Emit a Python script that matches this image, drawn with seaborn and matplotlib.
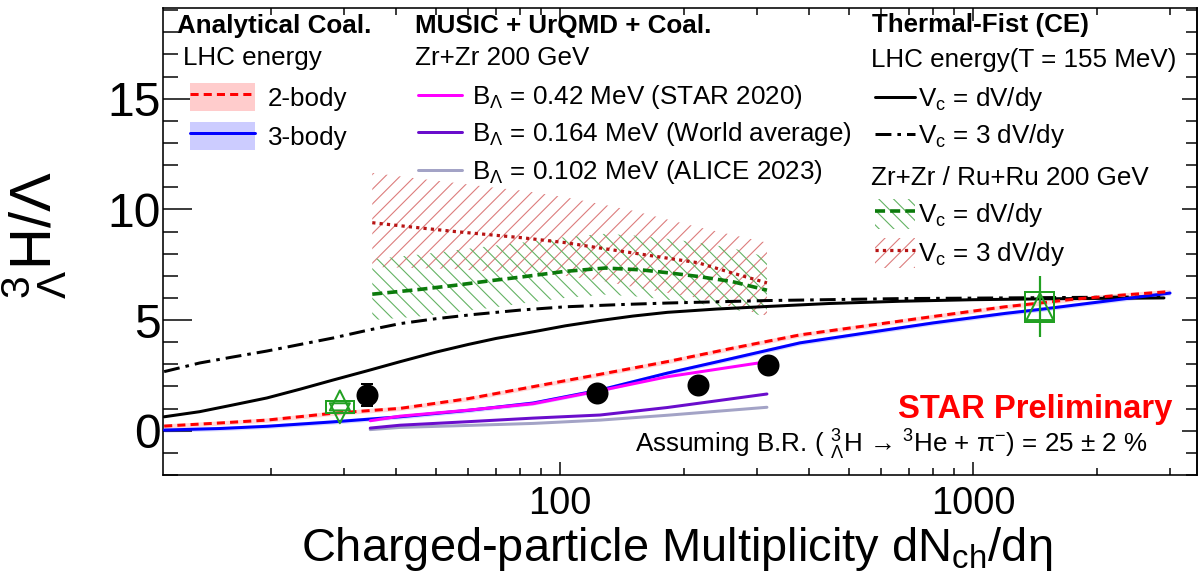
import matplotlib
matplotlib.use("Agg")
import matplotlib.pyplot as plt
import seaborn as sns
from matplotlib.lines import Line2D
from matplotlib.patches import Patch
from matplotlib.legend import Legend
from matplotlib.ticker import MultipleLocator, LogLocator, NullFormatter, FuncFormatter

# ---------------- data ----------------
# Thermal-FIST (CE), LHC energy, Vc = dV/dy
tf1_x = [11, 13.4, 16, 19.5, 23.5, 28.2, 34, 41, 50, 60, 70, 89, 103, 125, 150, 182, 240, 314, 450, 666, 1000, 1500, 2000, 2900]
tf1_y = [0.63, 0.86, 1.15, 1.48, 1.88, 2.29, 2.7, 3.12, 3.55, 3.9, 4.17, 4.52, 4.74, 4.98, 5.18, 5.35, 5.5, 5.61, 5.75, 5.85, 5.92, 5.96, 5.98, 6.0]
# Thermal-FIST (CE), LHC energy, Vc = 3 dV/dy
tf3_x = [11, 13.4, 16, 19.5, 23.5, 28.2, 34, 41, 50, 61.6, 80, 103, 140, 182, 314, 666, 1163, 2000, 2900]
tf3_y = [2.67, 3.06, 3.32, 3.6, 3.9, 4.19, 4.53, 4.84, 5.06, 5.25, 5.45, 5.6, 5.7, 5.77, 5.88, 5.97, 6.0, 6.03, 6.05]

# Analytical coalescence, LHC energy
coal_x = [11, 15, 19.5, 28.2, 41, 60, 86, 125, 181.6, 260, 381, 560, 800, 1195, 1452, 1766, 2300, 3000]
coal2_y = [0.21, 0.35, 0.48, 0.79, 1.01, 1.45, 1.99, 2.55, 3.12, 3.72, 4.33, 4.76, 5.16, 5.6, 5.77, 5.95, 6.13, 6.29]
coal3_y = [0.03, 0.1, 0.2, 0.4, 0.63, 0.92, 1.25, 1.84, 2.6, 3.26, 3.97, 4.44, 4.87, 5.3, 5.48, 5.68, 5.95, 6.22]
coal_band = 0.1

# MUSIC + UrQMD + Coal., Zr+Zr 200 GeV
music_x = [34.7, 41, 60, 86, 125, 182, 317]
music_042 = [0.45, 0.66, 0.93, 1.22, 1.81, 2.44, 3.12]
music_0164 = [0.12, 0.25, 0.41, 0.57, 0.71, 1.05, 1.66]
music_0102 = [0.05, 0.15, 0.24, 0.33, 0.48, 0.7, 1.06]

# Thermal-FIST, Zr+Zr / Ru+Ru 200 GeV
zr1_x = [35.1, 45, 55.7, 68, 80.9, 102.8, 128.6, 157, 186, 216, 261, 317]
zr1_y = [6.17, 6.37, 6.57, 6.78, 6.95, 7.2, 7.35, 7.27, 7.12, 6.97, 6.74, 6.35]
zr1_hi = [7.75, 7.95, 8.15, 8.35, 8.5, 8.75, 8.9, 8.8, 8.65, 8.5, 8.25, 7.85]
zr1_lo = [5.0, 5.15, 5.35, 5.55, 5.75, 6.0, 6.15, 6.05, 5.9, 5.75, 5.5, 5.15]
zr3_x = [35.1, 45, 55.7, 68, 80.9, 102.8, 128.6, 149.4, 186, 215.8, 261, 317]
zr3_y = [9.4, 9.18, 9.0, 8.85, 8.72, 8.5, 8.22, 8.04, 7.77, 7.59, 7.13, 6.68]
zr3_hi = [11.65, 11.4, 11.2, 11.0, 10.85, 10.55, 10.2, 9.95, 9.5, 9.2, 8.85, 8.5]
zr3_lo = [7.4, 7.35, 7.3, 7.2, 7.15, 7.0, 6.75, 6.5, 6.2, 6.0, 5.6, 5.2]

# STAR data
star_x = [34.1, 122.9, 216, 318]
star_y = [1.62, 1.69, 2.07, 2.97]
star_err = [0.5, 0.25, 0.25, 0.3]

# ALICE data (open green markers) with systematic boxes
alice_up_x = [29.3, 1452]
alice_up_y = [1.37, 5.61]
alice_down_x = [29.3]
alice_down_y = [0.79]
alice_err_x = [1452]
alice_err_y = [5.61]
alice_err = [1.36]
alice_box_xlo = [27.1, 1336]
alice_box_xhi = [31.7, 1570]
alice_box_ylo = [0.8, 4.9]
alice_box_yhi = [1.34, 6.29]

x_ticklabels = {100: "100", 1000: "1000"}

# ---------------- geometry helpers ----------------
DPI = 133
W, H = 1198, 588
AX_L, AX_R, AX_T, AX_B = 163, 1197, 8, 475


def pt(px):
    return px * 72.0 / DPI


def fx(px):
    return (px - AX_L) / (AX_R - AX_L)


def fy(py):
    return (AX_B - py) / (AX_B - AX_T)


sns.set_theme(style="ticks")
plt.rcParams.update({
    "mathtext.fontset": "custom",
    "mathtext.rm": "Liberation Sans",
    "mathtext.it": "Liberation Sans:italic",
    "mathtext.bf": "Liberation Sans:bold",
    "mathtext.sf": "Liberation Sans",
    "hatch.linewidth": pt(1.1),
    "text.color": "black",
    "axes.labelcolor": "black",
    "axes.edgecolor": "black",
    "xtick.color": "black",
    "ytick.color": "black",
})
plt.rcParams["font.family"] = ["Liberation Sans", "DejaVu Sans"]

RED = "#ff0000"
BLUE = "#0000ff"
MAG = "#ff00ff"
PURP = "#6a0dcc"
LAV = "#a3a3c6"
GLINE = "#0b7a0b"
GHATCH = "#63b263"
DRED = "#b81414"
RHATCH = "#dc7c7c"
MGREEN = "#22a022"
RED_HATCH_PAT = "///"
GREEN_HATCH_PAT = "\\\\\\"

LW = pt(3)
DASH_2B = (0, (2.7, 1.7))
DASHDOT = (0, (5.3, 2.0, 1.2, 2.0))
GDASH = (0, (2.8, 1.4))
RDOT = (0, (1.0, 1.3))

fig = plt.figure(figsize=(W / DPI, H / DPI), dpi=DPI)
ax = fig.add_axes([AX_L / W, 1 - AX_B / H, (AX_R - AX_L) / W, (AX_B - AX_T) / H])
ax.set_xscale("log")

# hatched bands (Zr+Zr / Ru+Ru thermal model)
ax.fill_between(zr3_x, zr3_lo, zr3_hi, facecolor="none", edgecolor=RHATCH,
                hatch=RED_HATCH_PAT, linewidth=0, zorder=1)
ax.fill_between(zr1_x, zr1_lo, zr1_hi, facecolor="none", edgecolor=GHATCH,
                hatch=GREEN_HATCH_PAT, linewidth=0, zorder=1)

# thin bands of the analytical coalescence
ax.fill_between(coal_x, [v - coal_band for v in coal2_y], [v + coal_band for v in coal2_y],
                color=RED, alpha=0.15, linewidth=0, zorder=1)
ax.fill_between(coal_x, [v - coal_band for v in coal3_y], [v + coal_band for v in coal3_y],
                color=BLUE, alpha=0.15, linewidth=0, zorder=1)

# curves
sns.lineplot(x=zr3_x, y=zr3_y, ax=ax, color=DRED, linewidth=pt(3.2), linestyle=RDOT, zorder=3)
sns.lineplot(x=zr1_x, y=zr1_y, ax=ax, color=GLINE, linewidth=pt(3.6), linestyle=GDASH, zorder=3)
sns.lineplot(x=tf3_x, y=tf3_y, ax=ax, color="black", linewidth=LW, linestyle=DASHDOT, zorder=3)
sns.lineplot(x=tf1_x, y=tf1_y, ax=ax, color="black", linewidth=LW, zorder=3)
sns.lineplot(x=coal_x, y=coal3_y, ax=ax, color=BLUE, linewidth=LW, zorder=3)
sns.lineplot(x=coal_x, y=coal2_y, ax=ax, color=RED, linewidth=LW, linestyle=DASH_2B, zorder=3)
sns.lineplot(x=music_x, y=music_0102, ax=ax, color=LAV, linewidth=LW, zorder=3)
sns.lineplot(x=music_x, y=music_0164, ax=ax, color=PURP, linewidth=LW, zorder=3)
sns.lineplot(x=music_x, y=music_042, ax=ax, color=MAG, linewidth=LW, zorder=3)

# ALICE points
ax.bar(alice_box_xlo, [h - l for h, l in zip(alice_box_yhi, alice_box_ylo)],
       width=[h - l for h, l in zip(alice_box_xhi, alice_box_xlo)], bottom=alice_box_ylo,
       align="edge", fill=False, edgecolor=MGREEN, linewidth=pt(2), zorder=4)
ax.errorbar(alice_err_x, alice_err_y, yerr=alice_err, fmt="none", ecolor=MGREEN,
            elinewidth=pt(2.2), zorder=4)
sns.scatterplot(x=alice_up_x, y=alice_up_y, ax=ax, marker="^", s=[pt(20) ** 2, pt(27) ** 2],
                color=MGREEN, facecolor="none", edgecolor=MGREEN, linewidth=pt(2), zorder=5, legend=False)
sns.scatterplot(x=alice_down_x, y=alice_down_y, ax=ax, marker="v", s=pt(20) ** 2,
                color=MGREEN, facecolor="none", edgecolor=MGREEN, linewidth=pt(2), zorder=5, legend=False)

# STAR points
ax.errorbar(star_x, star_y, yerr=star_err, fmt="none", ecolor="black", elinewidth=pt(2),
            capsize=pt(6), capthick=pt(2), zorder=5)
sns.scatterplot(x=star_x, y=star_y, ax=ax, marker="o", s=pt(22) ** 2, color="black",
                edgecolor="black", linewidth=0, zorder=6, legend=False)

# ---------------- axes styling ----------------
ax.set_xlim(10.93, 3486)
ax.set_ylim(-2, 19.1)
for s in ax.spines.values():
    s.set_linewidth(pt(1.6))
    s.set_color("black")

ax.xaxis.set_major_locator(LogLocator(base=10, numticks=10))
ax.xaxis.set_minor_locator(LogLocator(base=10, subs=range(2, 10), numticks=100))
ax.xaxis.set_major_formatter(FuncFormatter(lambda v, p: x_ticklabels.get(int(round(v)), "")))
ax.xaxis.set_minor_formatter(NullFormatter())
ax.yaxis.set_major_locator(MultipleLocator(5))
ax.yaxis.set_minor_locator(MultipleLocator(1))

ax.tick_params(axis="x", which="both", direction="in", top=True, bottom=True,
               width=pt(1.5), labelsize=pt(38), pad=pt(11))
ax.tick_params(axis="x", which="major", length=pt(13))
ax.tick_params(axis="x", which="minor", length=pt(7))
ax.tick_params(axis="y", which="both", direction="in", left=True, right=False,
               width=pt(1.5), labelsize=pt(48), pad=pt(2))
ax.tick_params(axis="y", which="major", length=pt(29))
ax.tick_params(axis="y", which="minor", length=pt(15))

secy = ax.secondary_yaxis("right")
secy.yaxis.set_major_locator(MultipleLocator(5))
secy.yaxis.set_minor_locator(MultipleLocator(1))
secy.yaxis.set_major_formatter(NullFormatter())
secy.tick_params(axis="y", which="both", direction="in", width=pt(1.5), labelright=False)
secy.tick_params(axis="y", which="major", length=pt(15))
secy.tick_params(axis="y", which="minor", length=pt(11))
secy.spines["right"].set_linewidth(pt(1.6))

ax.set_xlabel("Charged-particle Multiplicity dN$_{\\mathrm{ch}}$/dη", fontsize=pt(47))
ax.xaxis.set_label_coords(fx(677), fy(561))
ax.xaxis.label.set_verticalalignment("baseline")
ax.set_ylabel("${}^{3}_{\\Lambda}$H/Λ", fontsize=pt(58))
ax.yaxis.set_label_coords(fx(35), fy(235))
ax.yaxis.label.set_verticalalignment("center")

# ---------------- legends ----------------
FS_PX = 26
FS = pt(FS_PX)


def header(txt, x_px, base_px, bold=False):
    ax.text(fx(x_px), fy(base_px), txt, transform=ax.transAxes, ha="left", va="baseline",
            fontsize=FS, fontweight="bold" if bold else "normal", color="black")


def key_row(handle, label, x_px, y_px, hl_px, pad_px, hh_px=None):
    kw = dict(handlelength=hl_px / FS_PX, handletextpad=pad_px / FS_PX)
    if hh_px is not None:
        kw["handleheight"] = (hh_px / FS_PX - 0.245) / 0.65
    leg = Legend(ax, [handle], [label], loc="center left",
                 bbox_to_anchor=(fx(x_px), fy(y_px)), bbox_transform=ax.transAxes,
                 frameon=False, borderpad=0, borderaxespad=0, fontsize=FS, **kw)
    ax.add_artist(leg)


# column 1
header("Analytical Coal.", 177, 33, bold=True)
header("LHC energy", 183, 65)
key_row((Patch(facecolor="#ffcccc", edgecolor="none"),
         Line2D([], [], color=RED, lw=LW, ls=DASH_2B)), "2-body", 190, 97, 65, 13, 28)
key_row((Patch(facecolor="#ccccff", edgecolor="none"),
         Line2D([], [], color=BLUE, lw=LW)), "3-body", 190, 136, 65, 13, 28)

# column 2
header("MUSIC + UrQMD + Coal.", 415, 33, bold=True)
header("Zr+Zr 200 GeV", 415, 65)
key_row(Line2D([], [], color=MAG, lw=LW), "B$_{\\Lambda}$ = 0.42 MeV (STAR 2020)", 418, 97, 44, 10)
key_row(Line2D([], [], color=PURP, lw=LW), "B$_{\\Lambda}$ = 0.164 MeV (World average)", 418, 134, 44, 10)
key_row(Line2D([], [], color=LAV, lw=LW), "B$_{\\Lambda}$ = 0.102 MeV (ALICE 2023)", 418, 172, 44, 10)

# column 3
header("Thermal-Fist (CE)", 872, 32, bold=True)
header("LHC energy(T = 155 MeV)", 871, 67)
key_row(Line2D([], [], color="black", lw=LW), "V$_{\\mathrm{c}}$ = dV/dy", 875, 99, 40, 3)
key_row(Line2D([], [], color="black", lw=LW, ls=DASHDOT), "V$_{\\mathrm{c}}$ = 3 dV/dy", 875, 136, 40, 3)
header("Zr+Zr / Ru+Ru 200 GeV", 871, 185)
key_row((Patch(facecolor="none", edgecolor=GHATCH, hatch=GREEN_HATCH_PAT, lw=0),
         Line2D([], [], color=GLINE, lw=pt(3.6), ls=GDASH)), "V$_{\\mathrm{c}}$ = dV/dy", 875, 214, 40, 3, 30)
key_row((Patch(facecolor="none", edgecolor=RHATCH, hatch=RED_HATCH_PAT, lw=0),
         Line2D([], [], color=DRED, lw=pt(3.2), ls=RDOT)), "V$_{\\mathrm{c}}$ = 3 dV/dy", 875, 253, 40, 3, 30)

# annotations
ax.text(fx(1172), fy(418), "STAR Preliminary", transform=ax.transAxes, ha="right",
        va="baseline", color=RED, fontweight="bold", fontsize=pt(32.8))
ax.text(fx(1148), fy(453), "Assuming B.R. ( ${}^{3}_{\\Lambda}$H → ${}^{3}$He + π$^{-}$) = 25 ± 2 %",
        transform=ax.transAxes, ha="right", va="baseline", fontsize=FS)

fig.savefig("out.png", dpi=DPI)
